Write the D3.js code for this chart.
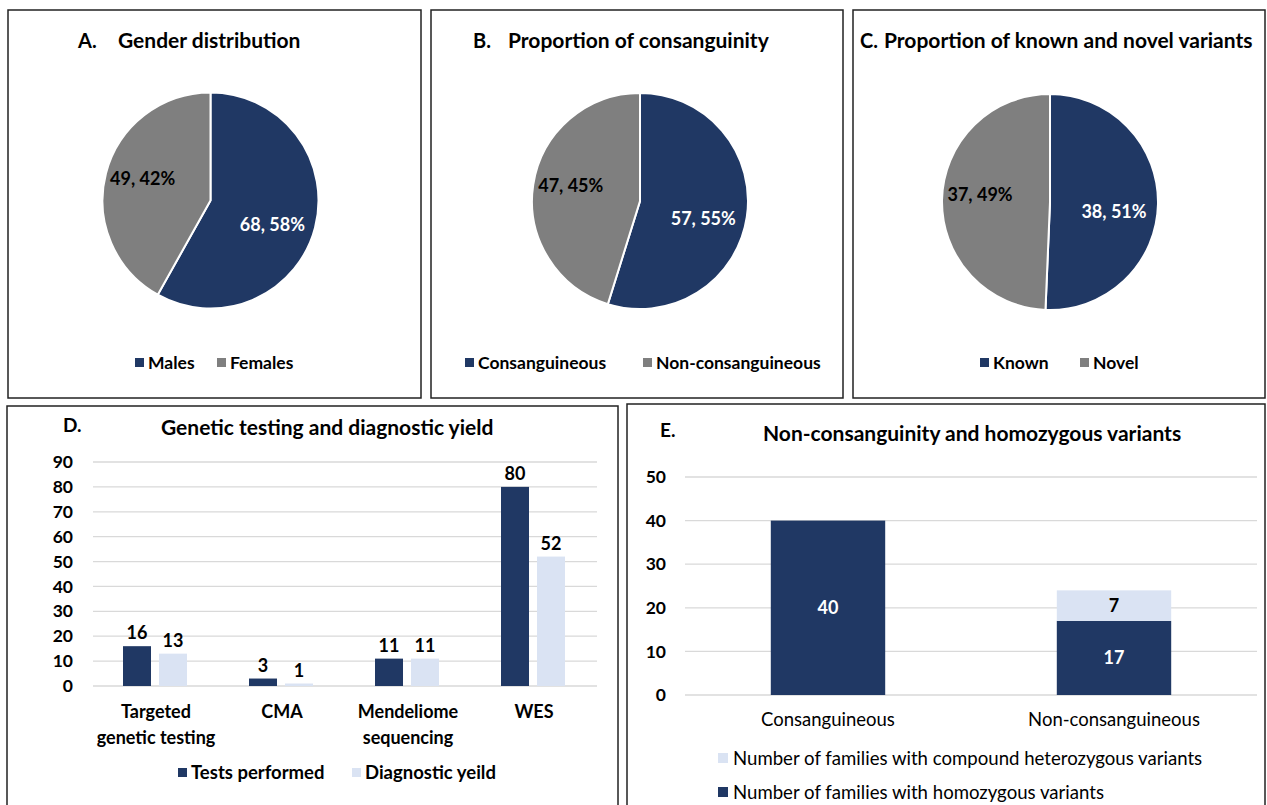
<!DOCTYPE html>
<html><head><meta charset="utf-8">
<script src="https://cdn.jsdelivr.net/npm/d3@7"></script>
<style>
html,body{margin:0;padding:0;background:#fff;}
svg{display:block;}
text{font-family:Lato,"Open Sans",sans-serif;fill:#000;}
</style></head>
<body>
<svg id="chart" width="1267" height="805"></svg>
<script>
// ---------- DATA ----------
const genderLabels = ["Males", "Females"];
const genderValues = [68, 49];
const genderPct = ["58%", "42%"];

const consLabels = ["Consanguineous", "Non-consanguineous"];
const consValues = [57, 47];
const consPct = ["55%", "45%"];

const variantLabels = ["Known", "Novel"];
const variantValues = [38, 37];
const variantPct = ["51%", "49%"];

const testCategories = ["Targeted genetic testing", "CMA", "Mendeliome sequencing", "WES"];
const testCategoryLines = [["Targeted", "genetic testing"], ["CMA"], ["Mendeliome", "sequencing"], ["WES"]];
const testSeries = ["Tests performed", "Diagnostic yeild"];
const testsPerformed = [16, 3, 11, 80];
const diagnosticYield = [13, 1, 11, 52];
const testTicks = [0, 10, 20, 30, 40, 50, 60, 70, 80, 90];

const famCategories = ["Consanguineous", "Non-consanguineous"];
const famSeries = ["Number of families with homozygous variants", "Number of families with compound heterozygous variants"];
const homozygous = [40, 17];
const compoundHet = [0, 7];
const famTicks = [0, 10, 20, 30, 40, 50];

// ---------- STYLE ----------
const DARK = "#203864", GRAY = "#7f7f7f", LIGHT = "#dae3f3", GRID = "#d9d9d9";
const svg = d3.select("#chart");
svg.append("rect").attr("width", 1267).attr("height", 805).attr("fill", "#fff");

function panel(x0, y0, x1, y1) {
  svg.append("rect").attr("x", x0).attr("y", y0).attr("width", x1 - x0).attr("height", y1 - y0)
    .attr("fill", "none").attr("stroke", "#222").attr("stroke-width", 1.5);
}
panel(8, 10, 421, 398);
panel(431, 10, 843, 398);
panel(853, 10, 1265, 398);
panel(7, 406, 618, 812);
panel(627, 404, 1265, 812);

function pieChart(cx, cy, labels, values, pcts, letter, letterX, title, titleX, legendX) {
  const g = svg.append("g").attr("transform", `translate(${cx},${cy})`);
  const colors = d3.scaleOrdinal().domain(labels).range([DARK, GRAY]);
  const data = labels.map((l, i) => ({ label: l, value: values[i], pct: pcts[i] }));
  const arcs = d3.pie().sort(null).value(d => d.value)(data);
  const arc = d3.arc().innerRadius(0).outerRadius(108);
  const labelArc = d3.arc().innerRadius(64).outerRadius(64);
  const labelShift = [[0, 8], [-6, -6]];
  g.selectAll("path").data(arcs).join("path")
    .attr("d", arc).attr("fill", d => colors(d.data.label))
    .attr("stroke", "#fff").attr("stroke-width", 2);
  g.selectAll("text.lbl").data(arcs).join("text").attr("class", "lbl")
    .attr("x", (d, i) => labelArc.centroid(d)[0] + labelShift[i][0])
    .attr("y", (d, i) => labelArc.centroid(d)[1] + labelShift[i][1])
    .attr("dy", "0.35em").attr("text-anchor", "middle")
    .style("font-size", "18px").style("font-weight", "bold")
    .style("fill", (d, i) => i === 0 ? "#fff" : "#000")
    .text(d => `${d.data.value}, ${d.data.pct}`);
  svg.append("text").attr("x", letterX).attr("y", 48).style("font-size", "20px").style("font-weight", "bold").text(letter);
  svg.append("text").attr("x", titleX).attr("y", 48).style("font-size", "21px").style("font-weight", "bold").text(title);
  labels.forEach((l, i) => {
    const x = legendX[i];
    svg.append("rect").attr("x", x).attr("y", 358).attr("width", 9).attr("height", 9).attr("fill", colors(l));
    svg.append("text").attr("x", x + 13).attr("y", 369).style("font-size", "17.5px").style("font-weight", "bold").text(l);
  });
}

pieChart(210.5, 200.5, genderLabels, genderValues, genderPct, "A.", 78, "Gender distribution", 118, [135, 217]);
pieChart(640, 201, consLabels, consValues, consPct, "B.", 473, "Proportion of consanguinity", 508, [465, 643]);
pieChart(1050, 202, variantLabels, variantValues, variantPct, "C.", 860, "Proportion of known and novel variants", 884, [980, 1080]);

// ---------- Panel D ----------
(function () {
  const x0 = d3.scaleBand().domain(testCategories).range([93, 597]);
  const x1 = d3.scaleBand().domain(testSeries).range([30, 94]).paddingInner(0.222);
  const y = d3.scaleLinear().domain([0, 90]).range([686, 462]);
  const color = d3.scaleOrdinal().domain(testSeries).range([DARK, LIGHT]);
  const g = svg.append("g");
  g.selectAll("line.grid").data(testTicks).join("line").attr("class", "grid")
    .attr("x1", 93).attr("x2", 597).attr("y1", d => y(d)).attr("y2", d => y(d))
    .attr("stroke", GRID).attr("stroke-width", 1.3);
  const yAxis = d3.axisLeft(y).tickValues(testTicks).tickSize(0).tickPadding(0);
  const ya = svg.append("g").attr("transform", "translate(73,0)").call(yAxis);
  ya.select(".domain").remove();
  ya.selectAll("text").style("font-size", "17.5px").style("font-weight", "bold").style("font-family", "Lato,sans-serif").attr("fill", "#000");
  const rows = testCategories.map((c, i) => ({ cat: c, vals: [testsPerformed[i], diagnosticYield[i]] }));
  const grp = g.selectAll("g.cat").data(rows).join("g").attr("class", "cat")
    .attr("transform", d => `translate(${x0(d.cat)},0)`);
  grp.selectAll("rect").data(d => d.vals.map((v, j) => ({ s: testSeries[j], v })))
    .join("rect").attr("x", d => x1(d.s)).attr("width", x1.bandwidth())
    .attr("y", d => y(d.v)).attr("height", d => y(0) - y(d.v)).attr("fill", d => color(d.s));
  grp.selectAll("text.val").data(d => d.vals.map((v, j) => ({ s: testSeries[j], v })))
    .join("text").attr("class", "val").attr("x", d => x1(d.s) + x1.bandwidth() / 2)
    .attr("y", d => y(d.v) - 7).attr("text-anchor", "middle")
    .style("font-size", "18px").style("font-weight", "bold").text(d => d.v);
  testCategories.forEach((c, i) => {
    const t = svg.append("text").attr("x", x0(c) + x0.bandwidth() / 2).attr("y", 718)
      .attr("text-anchor", "middle").style("font-size", "18px").style("font-weight", "bold");
    testCategoryLines[i].forEach((ln, k) => {
      t.append("tspan").attr("x", x0(c) + x0.bandwidth() / 2).attr("dy", k === 0 ? 0 : 26).text(ln);
    });
  });
  svg.append("text").attr("x", 63).attr("y", 432).style("font-size", "19px").style("font-weight", "bold").text("D.");
  svg.append("text").attr("x", 161).attr("y", 435).style("font-size", "21px").style("font-weight", "bold").text("Genetic testing and diagnostic yield");
  const lxs = [178, 352];
  testSeries.forEach((s, i) => {
    svg.append("rect").attr("x", lxs[i]).attr("y", 768).attr("width", 9).attr("height", 9).attr("fill", color(s));
    svg.append("text").attr("x", lxs[i] + 13).attr("y", 779).style("font-size", "18.5px").style("font-weight", "bold").text(s);
  });
})();

// ---------- Panel E ----------
(function () {
  const x = d3.scaleBand().domain(famCategories).range([685, 1257]).paddingInner(0.6).paddingOuter(0.3);
  const y = d3.scaleLinear().domain([0, 50]).range([695, 477]);
  const color = d3.scaleOrdinal().domain(famSeries).range([DARK, LIGHT]);
  svg.selectAll("line.egrid").data(famTicks).join("line").attr("class", "egrid")
    .attr("x1", 685).attr("x2", 1257).attr("y1", d => y(d)).attr("y2", d => y(d))
    .attr("stroke", GRID).attr("stroke-width", 1.3);
  const ya = svg.append("g").attr("transform", "translate(666,0)")
    .call(d3.axisLeft(y).tickValues(famTicks).tickSize(0).tickPadding(0));
  ya.select(".domain").remove();
  ya.selectAll("text").style("font-size", "17.5px").style("font-weight", "bold").style("font-family", "Lato,sans-serif").attr("fill", "#000");
  const table = famCategories.map((c, i) => ({ cat: c, homo: homozygous[i], comp: compoundHet[i] }));
  const stacked = d3.stack().keys(["homo", "comp"])(table);
  const g = svg.append("g");
  stacked.forEach((layer, li) => {
    g.selectAll(`rect.l${li}`).data(layer.filter(d => d[1] > d[0])).join("rect").attr("class", `l${li}`)
      .attr("x", d => x(d.data.cat)).attr("width", x.bandwidth())
      .attr("y", d => y(d[1])).attr("height", d => y(d[0]) - y(d[1]))
      .attr("fill", color(famSeries[li]));
    g.selectAll(`text.t${li}`).data(layer.filter(d => d[1] > d[0])).join("text").attr("class", `t${li}`)
      .attr("x", d => x(d.data.cat) + x.bandwidth() / 2)
      .attr("y", d => (y(d[0]) + y(d[1])) / 2).attr("dy", "0.35em").attr("text-anchor", "middle")
      .style("font-size", "18px").style("font-weight", "bold")
      .style("fill", li === 0 ? "#fff" : "#000").text(d => d[1] - d[0]);
  });
  famCategories.forEach(c => {
    svg.append("text").attr("x", x(c) + x.bandwidth() / 2).attr("y", 726).attr("text-anchor", "middle")
      .style("font-size", "18.5px").text(c);
  });
  svg.append("text").attr("x", 660).attr("y", 437).style("font-size", "19px").style("font-weight", "bold").text("E.");
  svg.append("text").attr("x", 763).attr("y", 441).style("font-size", "21px").style("font-weight", "bold").text("Non-consanguinity and homozygous variants");
  const legendOrder = [1, 0];
  legendOrder.forEach((si, k) => {
    const yy = 758 + k * 34;
    svg.append("rect").attr("x", 718).attr("y", yy - 5).attr("width", 10).attr("height", 10).attr("fill", color(famSeries[si]));
    svg.append("text").attr("x", 733).attr("y", yy + 6.5).style("font-size", "18.6px").text(famSeries[si]);
  });
})();
</script>
</body></html>
